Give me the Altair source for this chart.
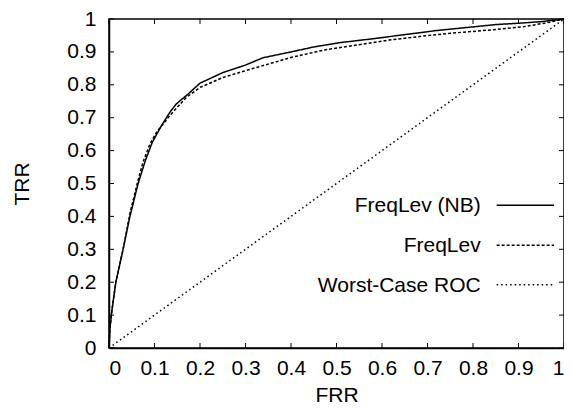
import altair as alt
import pandas as pd

# FreqLev (NB) - solid
nb_x = [0, 0.002, 0.006, 0.015, 0.031, 0.046, 0.064, 0.08, 0.095, 0.115, 0.134, 0.148, 0.174, 0.2, 0.25, 0.3, 0.338, 0.4, 0.45, 0.507, 0.58, 0.653, 0.72, 0.8, 0.85, 0.91, 0.95, 1.0]
nb_y = [0, 0.06, 0.11, 0.2, 0.3, 0.4, 0.5, 0.57, 0.625, 0.675, 0.717, 0.742, 0.772, 0.805, 0.837, 0.86, 0.882, 0.9, 0.915, 0.928, 0.94, 0.953, 0.965, 0.976, 0.983, 0.988, 0.992, 1.0]

# FreqLev - dashed
fl_x = [0, 0.002, 0.006, 0.015, 0.031, 0.046, 0.064, 0.075, 0.09, 0.105, 0.134, 0.17, 0.2, 0.25, 0.31, 0.4, 0.47, 0.55, 0.616, 0.69, 0.762, 0.84, 0.909, 0.96, 1.0]
fl_y = [0, 0.06, 0.11, 0.2, 0.3, 0.41, 0.51, 0.566, 0.62, 0.657, 0.707, 0.762, 0.792, 0.822, 0.847, 0.883, 0.905, 0.922, 0.936, 0.948, 0.958, 0.967, 0.976, 0.988, 1.0]

# Worst-Case ROC - dotted diagonal
wc_x = [0, 1]
wc_y = [0, 1]

series = ["FreqLev (NB)", "FreqLev", "Worst-Case ROC"]
dashes = [[1, 0], [3, 2], [1.5, 3]]
ticks = [round(i * 0.1, 1) for i in range(11)]

W, H = 455, 329
FONT = "Liberation Sans"
FS = 21

rows = []
for name, xs_, ys_ in zip(series, [nb_x, fl_x, wc_x], [nb_y, fl_y, wc_y]):
    for i, (a, b) in enumerate(zip(xs_, ys_)):
        rows.append({"series": name, "x": a, "y": b, "o": i})
df = pd.DataFrame(rows)

xs = alt.Scale(domain=[0, 1], nice=False)
ys = alt.Scale(domain=[0, 1], nice=False)
dash_scale = alt.Scale(domain=series, range=dashes)

axis_common = dict(values=ticks, format="~g", grid=False, ticks=False,
                   labelFont=FONT, titleFont=FONT, labelFontSize=FS, titleFontSize=FS,
                   labelColor="black", titleColor="black", titleFontWeight="normal",
                   domainColor="black", domainWidth=1.5, labelOverlap=False)
x_axis = alt.Axis(labelPadding=9, titlePadding=6, **axis_common)
y_axis = alt.Axis(labelPadding=13, titlePadding=34, **axis_common)


def X(f):
    return alt.X(f, scale=xs, axis=x_axis, title="FRR")


def Y(f):
    return alt.Y(f, scale=ys, axis=y_axis, title="TRR")


lines = alt.Chart(df).mark_line(color="black", strokeWidth=1.5).encode(
    x=X("x:Q"), y=Y("y:Q"),
    strokeDash=alt.StrokeDash("series:N", scale=dash_scale, legend=None),
    detail="series:N", order="o:Q",
)

tl = 5 / H
tlx = 5 / W
tick_df = pd.DataFrame({"v": ticks, "y0": 0.0, "y0b": tl, "y1": 1.0, "y1b": 1 - tl,
                        "x0": 0.0, "x0b": tlx, "x1": 1.0, "x1b": 1 - tlx})

bottom = alt.Chart(tick_df).mark_rule(color="black", strokeWidth=1).encode(
    x=X("v:Q"), y=Y("y0:Q"), y2="y0b:Q")
top = alt.Chart(tick_df).mark_rule(color="black", strokeWidth=1).encode(
    x=X("v:Q"), y=Y("y1:Q"), y2="y1b:Q")
left = alt.Chart(tick_df).mark_rule(color="black", strokeWidth=1).encode(
    y=Y("v:Q"), x=X("x0:Q"), x2="x0b:Q")
right = alt.Chart(tick_df).mark_rule(color="black", strokeWidth=1).encode(
    y=Y("v:Q"), x=X("x1:Q"), x2="x1b:Q")

leg_y = [0.434, 0.312, 0.192]
leg_df = pd.DataFrame({"series": series, "ly": leg_y,
                       "tx": [0.817] * 3, "x1": [0.852] * 3, "x2": [0.978] * 3})
leg_text = alt.Chart(leg_df).mark_text(align="right", baseline="middle", font=FONT,
                                       fontSize=FS, color="black", dy=1).encode(
    x=X("tx:Q"), y=Y("ly:Q"), text="series:N")
leg_line = alt.Chart(leg_df).mark_rule(color="black", strokeWidth=1.5).encode(
    x=X("x1:Q"), x2="x2:Q", y=Y("ly:Q"),
    strokeDash=alt.StrokeDash("series:N", scale=dash_scale, legend=None))

chart = alt.layer(lines, bottom, top, left, right, leg_text, leg_line).properties(
    width=W, height=H,
    autosize=alt.AutoSizeParams(type="none"),
    padding={"left": 101, "top": 11, "right": 0, "bottom": 56},
    background="white",
).configure_view(stroke="black", strokeWidth=1.5).configure_axis(
    labelFont=FONT, titleFont=FONT, labelFontSize=FS, titleFontSize=FS,
    labelColor="black", titleColor="black", titleFontWeight="normal",
)

chart.save("out.html", embed_options={"renderer": "svg", "actions": False})
